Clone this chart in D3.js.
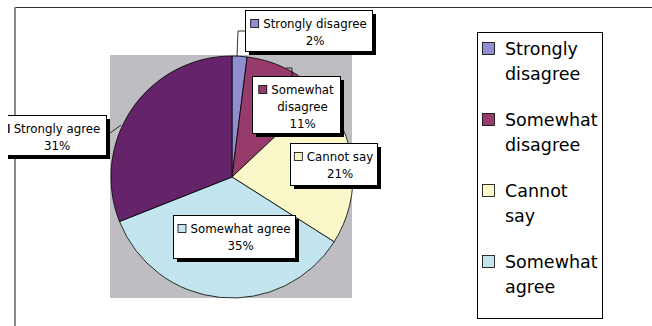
<!DOCTYPE html>
<html>
<head>
<meta charset="utf-8">
<script src="https://cdn.jsdelivr.net/npm/d3@7"></script>
<style>
  body { margin: 0; background: #fff; }
  svg { display: block; }
  text { font-family: "DejaVu Sans", sans-serif; fill: #000; }
</style>
</head>
<body>
<div id="chart"></div>
<script>
// Data
var categories = ["Strongly disagree", "Somewhat disagree", "Cannot say", "Somewhat agree", "Strongly agree"];
var values = [2, 11, 21, 35, 31];
var labelText = [["Strongly disagree"], ["Somewhat", "disagree"], ["Cannot say"], ["Somewhat agree"], ["Strongly agree"]];
var legendText = [["Strongly", "disagree"], ["Somewhat", "disagree"], ["Cannot", "say"], ["Somewhat", "agree"]];
var colors = ["#8e8ed0", "#973a6c", "#faf8c8", "#c2e5ef", "#652369"];

// Layout
var svgWidth = 652;
var svgHeight = 326;
var pieCenter = {x: 232, y: 177};
var pieRadius = 121;

// hand placed label boxes, like the original
var labelBoxes = [
  {x: 245, y: 10, w: 127, h: 41},
  {x: 252, y: 76, w: 88, h: 57},
  {x: 290, y: 143, w: 87, h: 42},
  {x: 173, y: 215, w: 122, h: 43},
  {x: -5, y: 115, w: 111, h: 40}
];
var leaders = [
  [[237, 56], [238, 31], [245, 31]],
  [[286, 68], [292, 68], [292, 76]],
  null,
  null,
  [[106, 136], [121, 125]]
];

var svg = d3.select("#chart")
  .append("svg")
  .attr("width", svgWidth)
  .attr("height", svgHeight);

svg.append("clipPath")
  .attr("id", "clip")
  .append("rect")
  .attr("x", 8).attr("y", 0)
  .attr("width", svgWidth - 8).attr("height", svgHeight);

// outer frame
svg.append("line")
  .attr("x1", 15).attr("y1", 7.5).attr("x2", svgWidth).attr("y2", 7.5)
  .attr("stroke", "#333").attr("stroke-width", 1);
svg.append("line")
  .attr("x1", 15).attr("y1", 7).attr("x2", 15).attr("y2", svgHeight)
  .attr("stroke", "#888").attr("stroke-width", 2);

// plot area
svg.append("rect")
  .attr("x", 110).attr("y", 55)
  .attr("width", 242).attr("height", 243)
  .attr("fill", "#bebec2");

var pie = d3.pie().sort(null).value(d => d);
var arcs = pie(values);
var arc = d3.arc().innerRadius(0).outerRadius(pieRadius);

var pieGroup = svg.append("g")
  .attr("transform", `translate(${pieCenter.x}, ${pieCenter.y})`);

pieGroup.selectAll("path")
  .data(arcs)
  .enter()
  .append("path")
  .attr("d", arc)
  .attr("fill", (d, i) => colors[i])
  .attr("stroke", "#000")
  .attr("stroke-width", 0.8)
  .attr("stroke-linejoin", "round");

// leader lines
svg.selectAll(".leader")
  .data(leaders.filter(d => d))
  .enter()
  .append("polyline")
  .attr("class", "leader")
  .attr("points", d => d.map(p => p.join(",")).join(" "))
  .attr("fill", "none")
  .attr("stroke", "#000")
  .attr("stroke-width", 0.8);

// data labels
var labelGroup = svg.append("g").attr("clip-path", "url(#clip)");
var labelFont = 11.8;

arcs.forEach(function(d, i) {
  var b = labelBoxes[i];
  var g = labelGroup.append("g");
  g.append("rect")
    .attr("x", b.x + 4).attr("y", b.y + 4)
    .attr("width", b.w).attr("height", b.h)
    .attr("fill", "#000");
  g.append("rect")
    .attr("x", b.x + 0.5).attr("y", b.y + 0.5)
    .attr("width", b.w).attr("height", b.h)
    .attr("fill", "#fff").attr("stroke", "#000").attr("stroke-width", 1);

  var lines = labelText[i].concat([d.value + "%"]);
  var cx = b.x + 18 + (b.w - 23) / 2;
  lines.forEach(function(t, j) {
    var txt = g.append("text")
      .attr("x", cx)
      .attr("y", b.y + 17.5 + j * 17)
      .attr("text-anchor", "middle")
      .style("font-size", labelFont + "px")
      .text(t);
    if (j === 0) {
      var w = txt.node().getComputedTextLength();
      g.append("rect")
        .attr("x", cx - w / 2 - 12.5).attr("y", b.y + 9.5)
        .attr("width", 8).attr("height", 8)
        .attr("fill", colors[i]).attr("stroke", "#000").attr("stroke-width", 0.8);
    }
  });
});

// legend
var legend = svg.append("g");
legend.append("rect")
  .attr("x", 477.5).attr("y", 32.5)
  .attr("width", 125).attr("height", 286)
  .attr("fill", "#fff").attr("stroke", "#000").attr("stroke-width", 1);

var legendItems = legend.selectAll(".item")
  .data(legendText)
  .enter()
  .append("g")
  .attr("class", "item")
  .attr("transform", (d, i) => `translate(0, ${55 + i * 71})`);

legendItems.append("rect")
  .attr("x", 482.5).attr("y", -12.5)
  .attr("width", 12).attr("height", 12)
  .attr("fill", (d, i) => colors[i])
  .attr("stroke", "#000").attr("stroke-width", 0.8);

legendItems.each(function(d) {
  var item = d3.select(this);
  d.forEach(function(t, j) {
    item.append("text")
      .attr("x", 505)
      .attr("y", j * 25)
      .style("font-size", "17.5px")
      .text(t);
  });
});
</script>
</body>
</html>
